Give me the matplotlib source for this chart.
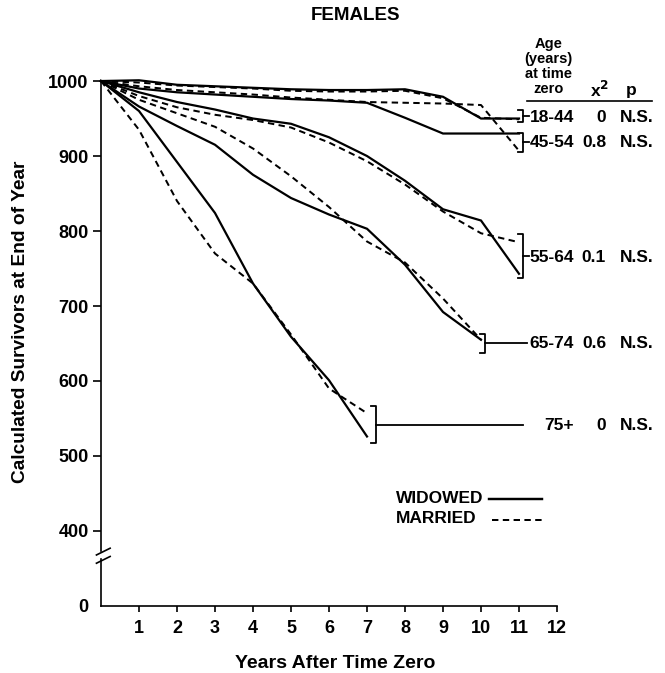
import matplotlib
matplotlib.use("Agg")
import matplotlib.pyplot as plt

plt.rcParams['font.family'] = ['Liberation Sans', 'DejaVu Sans']
plt.rcParams['font.weight'] = 'bold'

# survivors per 1000 at end of each year (widowed = solid, married = dashed)
w18 = [1000, 1001, 995, 993, 991, 989, 988, 988, 989, 979, 950, 950]
m18 = [1000, 998, 994, 992, 990, 987, 986, 986, 987, 977, 951, 949]
w45 = [1000, 990, 985, 982, 979, 976, 974, 971, 951, 930, 930, 930]
m45 = [1000, 993, 988, 985, 982, 978, 975, 972, 971, 970, 968, 907]
w55 = [1000, 985, 972, 962, 950, 943, 925, 900, 867, 829, 814, 743]
m55 = [1000, 980, 965, 955, 948, 938, 918, 893, 862, 826, 797, 785]
w65 = [1000, 966, 940, 915, 875, 844, 822, 803, 755, 692, 655]
m65 = [1000, 975, 957, 939, 910, 873, 832, 786, 758, 710, 655]
w75 = [1000, 960, 892, 824, 730, 659, 601, 526]
m75 = [1000, 935, 840, 770, 730, 662, 590, 557]

groups = ["18-44", "45-54", "55-64", "65-74", "75+"]
chi2 = ["0", "0.8", "0.1", "0.6", "0"]
pvals = ["N.S.", "N.S.", "N.S.", "N.S.", "N.S."]

yticks = [0, 400, 500, 600, 700, 800, 900, 1000]
xticks = list(range(1, 13))


def ymap(v):
    # broken axis: 0 is drawn one step below 400
    return v if v >= 400 else 300 + v * 100 / 400


fig = plt.figure(figsize=(6.65, 6.73), dpi=100)
ax = fig.add_axes([0.1519, 0.0996, 0.6857, 0.78])
ax.set_xlim(0, 12)
ax.set_ylim(300, 1000)

lw = 1.6
for w, m in [(w18, m18), (w45, m45), (w55, m55), (w65, m65), (w75, m75)]:
    ax.plot(range(len(w)), w, color='black', lw=lw, clip_on=False,
            solid_joinstyle='miter')
    ax.plot(range(len(m)), m, color='black', lw=lw * 0.9, clip_on=False,
            dashes=(3.2, 2.2))

# brackets + labels on the right
k = dict(color='black', lw=1.3, clip_on=False)
brackets = [  # x, top, bottom, connector end
    (11.1, 961, 946, 11.25),
    (11.1, 931, 906, 11.25),
    (11.1, 796, 737, 11.25),
    (10.1, 663, 637, 11.2),
    (7.23, 566, 517, 11.1),
]
rows_y = [951, 918, 765, 650, 541]
for (bx, top, bot, cend), g, c, p, ry in zip(brackets, groups, chi2, pvals, rows_y):
    ax.plot([bx - 0.12, bx, bx, bx - 0.12], [top, top, bot, bot], **k)
    ax.plot([bx, cend], [(top + bot) / 2] * 2, **k)
    ax.text(12.45, ry, g, ha='right', va='center', fontsize=12.5)
    ax.text(13.29, ry, c, ha='right', va='center', fontsize=12.5)
    ax.text(14.1, ry, p, ha='center', va='center', fontsize=12.5)

ax.text(11.78, 1019, "Age\n(years)\nat time\nzero", ha='center', va='center',
        fontsize=10.5, linespacing=1.1)
ax.text(13.13, 988, "x$^2$", ha='center', va='center', fontsize=12.5)
ax.text(13.95, 988, "p", ha='center', va='center', fontsize=12.5)
ax.plot([11.2, 14.5], [974, 974], color='black', lw=1.2, clip_on=False)

# legend
ax.text(7.75, 443, "WIDOWED", ha='left', va='center', fontsize=12.5)
ax.plot([10.2, 11.6], [443, 443], color='black', lw=lw * 1.1, clip_on=False)
ax.text(7.75, 417, "MARRIED", ha='left', va='center', fontsize=12.5)
ax.plot([10.3, 11.6], [415, 415], color='black', lw=lw * 0.9, clip_on=False,
        dashes=(3.2, 2.2))

# axes styling with the broken left spine
for s in ['top', 'right', 'left']:
    ax.spines[s].set_visible(False)
ax.spines['bottom'].set_linewidth(1.2)
ax.plot([0, 0], [300, 362], color='black', lw=1.2, clip_on=False)
ax.plot([0, 0], [373, 1000], color='black', lw=1.2, clip_on=False)
ax.plot([-0.12, 0.24], [368, 377], color='black', lw=1.2, clip_on=False)
ax.plot([-0.12, 0.24], [357, 366], color='black', lw=1.2, clip_on=False)

ax.set_yticks([ymap(v) for v in yticks])
ax.set_yticklabels([str(v) for v in yticks])
ax.set_xticks(xticks)
ax.set_xticklabels([str(v) for v in xticks])
ax.tick_params(axis='y', direction='out', length=6, width=1.2, labelsize=13, pad=3)
ax.tick_params(axis='x', direction='out', length=4, width=1.2, labelsize=13, pad=6)
ax.yaxis.get_major_ticks()[0].tick1line.set_visible(False)

fig.text(335 / 665, 1 - 663 / 673, "Years After Time Zero", ha='center',
         va='center', fontsize=14)
fig.text(21 / 665, 1 - 322 / 673, "Calculated Survivors at End of Year",
         ha='center', va='center', rotation=90, fontsize=13.8)
fig.text(356 / 665, 1 - 15 / 673, "FEMALES", ha='center', va='center',
         fontsize=13.5)

fig.savefig("out.png", dpi=100)
